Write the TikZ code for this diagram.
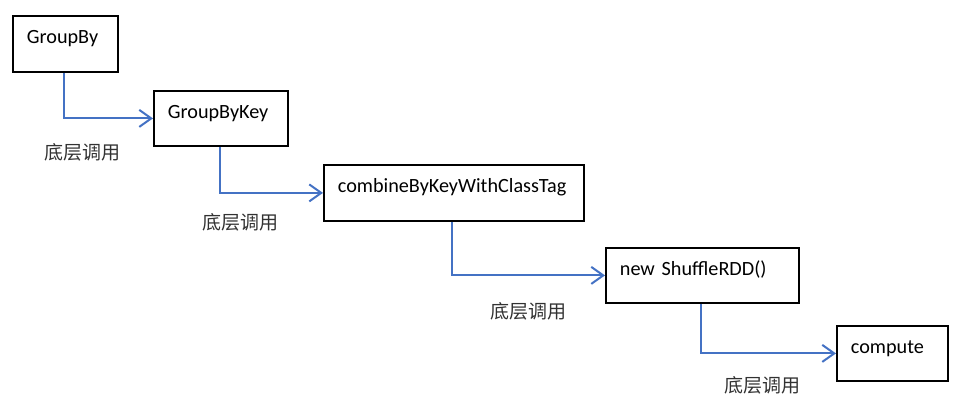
\documentclass[tikz,border=0pt]{standalone}
\usepackage{fontspec}
\setmainfont{Carlito}
\newfontfamily\cjk{Noto Sans CJK SC}
\usetikzlibrary{arrows.meta}
\definecolor{officeblue}{RGB}{68,114,196}
\definecolor{labelgrey}{RGB}{50,50,50}
\tikzset{
  box/.style={draw=black, line width=1.8pt, anchor=north west, align=left,
    inner xsep=14pt, inner ysep=0pt, text height=28pt,
    font=\fontsize{20.2}{23}\selectfont},
  conn/.style={draw=officeblue, line width=2pt,
    -{Straight Barb[length=12pt,width=17pt]}},
  lbl/.style={font=\cjk\fontsize{19}{22}\selectfont, text=labelgrey, inner sep=0pt}
}
\begin{document}
\begin{tikzpicture}[x=1pt,y=-1pt]
\useasboundingbox (0,0) rectangle (953,406);
\node[box, text width=77pt, text depth=28pt] (b1) at (12,15) {GroupBy};
\node[box, text width=106pt, text depth=27pt] (b2) at (153,90) {GroupByKey};
\node[box, text width=232pt, text depth=28pt] (b3) at (323,164) {combineByKeyWithClassTag};
\node[box, text width=165pt, text depth=27pt] (b4) at (605,247) {new ShuffleRDD()};
\node[box, text width=83pt, text depth=27pt] (b5) at (836,325) {compute};
\draw[conn] ([xshift=52pt]b1.south west) |- (b2.west);
\draw[conn] ([xshift=67pt]b2.south west) |- (b3.west);
\draw[conn] ([xshift=129pt]b3.south west) |- (b4.west);
\draw[conn] ([xshift=96pt]b4.south west) |- (b5.west);
\node[lbl] (l1) at (82,152) {底层调用};
\node[lbl] (l2) at (240,222) {底层调用};
\node[lbl] (l3) at (528,311) {底层调用};
\node[lbl] (l4) at (762,385) {底层调用};
\end{tikzpicture}
\end{document}
